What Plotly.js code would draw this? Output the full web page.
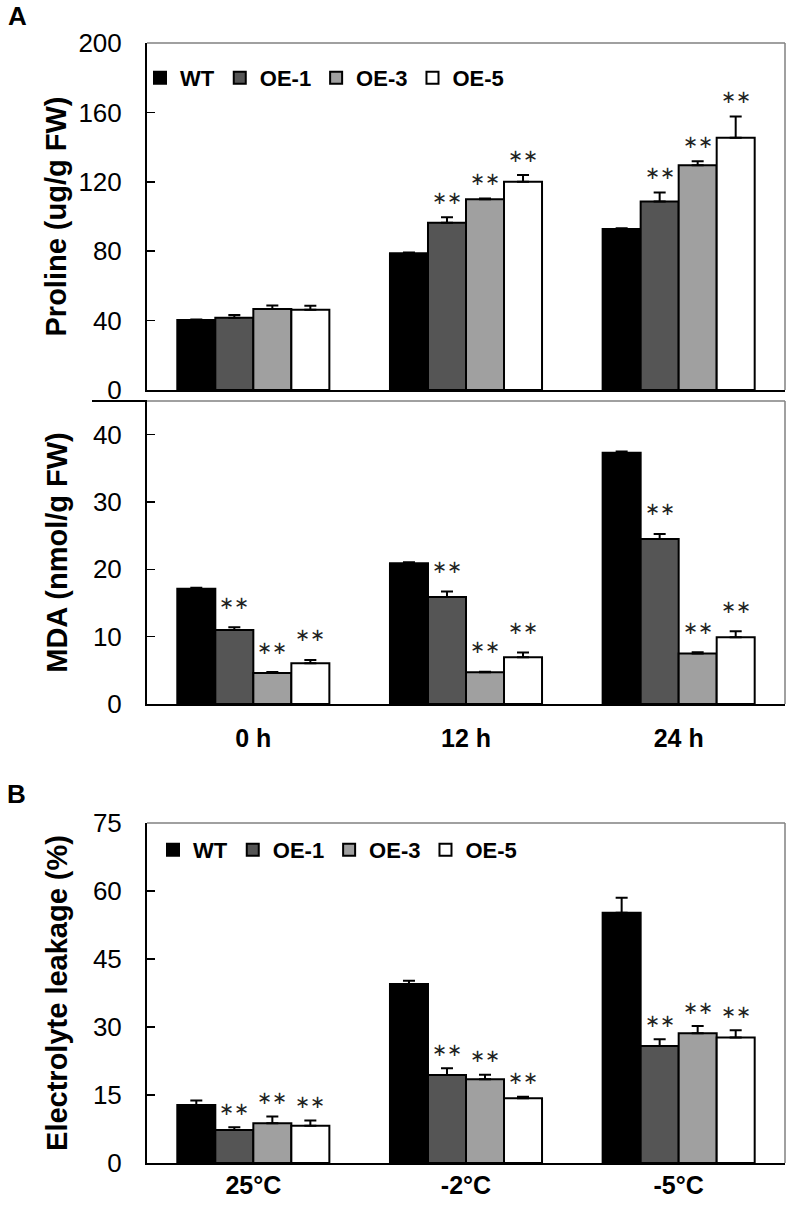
<!DOCTYPE html>
<html>
<head>
<meta charset="utf-8">
<script src="https://cdn.plot.ly/plotly-3.0.1.min.js"></script>
<style>html,body{margin:0;padding:0;background:#fff;}#chart{width:800px;height:1207px;}</style>
</head>
<body>
<div id="chart"></div>
<script>
// ---------- data ----------
const timeCategories = ['0 h', '12 h', '24 h'];
const tempCategories = ['25°C', '-2°C', '-5°C'];
const seriesNames = ['WT', 'OE-1', 'OE-3', 'OE-5'];

// Proline (ug/g FW)
const prolineWT = [40.3, 78.8, 92.8];
const prolineOE1 = [41.7, 96.4, 108.7];
const prolineOE3 = [46.7, 109.9, 129.5];
const prolineOE5 = [46.3, 120.1, 145.4];
const prolineWTErr = [0.3, 0.4, 0.4];
const prolineOE1Err = [1.5, 3.1, 5.2];
const prolineOE3Err = [2.0, 0.5, 2.3];
const prolineOE5Err = [2.3, 3.8, 12.3];
const prolineSig = [[0, 0, 0], [0, 1, 1], [0, 1, 1], [0, 1, 1]];

// MDA (nmol/g FW)
const mdaWT = [17.1, 20.9, 37.3];
const mdaOE1 = [11.0, 15.9, 24.5];
const mdaOE3 = [4.6, 4.7, 7.5];
const mdaOE5 = [6.05, 6.95, 9.9];
const mdaWTErr = [0.15, 0.15, 0.2];
const mdaOE1Err = [0.4, 0.8, 0.75];
const mdaOE3Err = [0.15, 0.1, 0.2];
const mdaOE5Err = [0.5, 0.7, 0.9];
const mdaSig = [[0, 0, 0], [1, 1, 1], [1, 1, 1], [1, 1, 1]];

// Electrolyte leakage (%)
const elWT = [12.8, 39.5, 55.2];
const elOE1 = [7.3, 19.4, 25.8];
const elOE3 = [8.75, 18.5, 28.6];
const elOE5 = [8.2, 14.3, 27.7];
const elWTErr = [1.0, 0.7, 3.3];
const elOE1Err = [0.6, 1.5, 1.5];
const elOE3Err = [1.5, 0.95, 1.6];
const elOE5Err = [1.2, 0.3, 1.6];
const elSig = [[0, 0, 0], [1, 1, 1], [1, 1, 1], [1, 1, 1]];

// ---------- style ----------
const FONT = 'Liberation Sans, Arial, Helvetica, sans-serif';
const fills = ['#000000', '#555555', '#a0a0a0', '#ffffff'];
const BARGAP = 0.285;
const W = 800, H = 1207;
const xDom = [147 / W, 785 / W];
const px2y = p => 1 - p / H;
const dom1 = [px2y(390), px2y(43)];
const dom2 = [px2y(704), px2y(401)];
const dom3 = [px2y(1163), px2y(823)];

const panels = [
  {cats: timeCategories, vals: [prolineWT, prolineOE1, prolineOE3, prolineOE5],
   errs: [prolineWTErr, prolineOE1Err, prolineOE3Err, prolineOE5Err], sig: prolineSig,
   xa: 'x', ya: 'y', legend: 'legend', show: true, starShift: 20},
  {cats: timeCategories, vals: [mdaWT, mdaOE1, mdaOE3, mdaOE5],
   errs: [mdaWTErr, mdaOE1Err, mdaOE3Err, mdaOE5Err], sig: mdaSig,
   xa: 'x2', ya: 'y2', legend: 'legend', show: false, starShift: 25},
  {cats: tempCategories, vals: [elWT, elOE1, elOE3, elOE5],
   errs: [elWTErr, elOE1Err, elOE3Err, elOE5Err], sig: elSig,
   xa: 'x3', ya: 'y3', legend: 'legend2', show: true, starShift: 19}
];

const traces = [];
const annotations = [];
const groupW = 1 - BARGAP;
const barW = groupW / seriesNames.length;

panels.forEach(p => {
  seriesNames.forEach((name, i) => {
    traces.push({
      type: 'bar', name: name, x: p.cats, y: p.vals[i],
      xaxis: p.xa, yaxis: p.ya, legend: p.legend, showlegend: p.show,
      marker: {color: fills[i], line: {color: '#000', width: 2}},
      error_y: {type: 'data', symmetric: false, array: p.errs[i],
                arrayminus: p.errs[i].map(() => 0), color: '#000', thickness: 2, width: 6},
      hoverinfo: 'skip'
    });
    p.sig[i].forEach((s, j) => {
      if (s) {
        annotations.push({
          xref: p.xa, yref: p.ya,
          x: j - groupW / 2 + barW * (i + 0.5),
          y: p.vals[i][j] + p.errs[i][j],
          text: '∗∗', showarrow: false, yanchor: 'middle', xanchor: 'center',
          yshift: p.starShift,
          font: {family: 'DejaVu Sans', size: 18, color: '#222'}
        });
      }
    });
  });
});

annotations.push({xref: 'paper', yref: 'paper', x: 17 / W, y: px2y(16), text: 'A',
  showarrow: false, xanchor: 'center', yanchor: 'middle',
  font: {family: FONT, size: 26, weight: 'bold', color: '#000'}});
annotations.push({xref: 'paper', yref: 'paper', x: 16 / W, y: px2y(794), text: 'B',
  showarrow: false, xanchor: 'center', yanchor: 'middle',
  font: {family: FONT, size: 26, weight: 'bold', color: '#000'}});

const gray = {color: '#808080', width: 1.5};
const shapes = [];
[['x', 'y'], ['x2', 'y2'], ['x3', 'y3']].forEach(([xa, ya]) => {
  shapes.push({type: 'line', xref: xa + ' domain', yref: ya + ' domain', x0: 0, x1: 1, y0: 1, y1: 1, line: gray});
  shapes.push({type: 'line', xref: xa + ' domain', yref: ya + ' domain', x0: 1, x1: 1, y0: 0, y1: 1, line: gray});
});
shapes.push({type: 'line', xref: 'paper', yref: 'y2 domain', x0: 92 / W, x1: 147 / W, y0: 1, y1: 1,
  line: {color: '#000', width: 2}});

function xAxis(anchor, showLabels, standoff) {
  return {domain: xDom, anchor: anchor, type: 'category', range: [-0.5, 2.5],
    showline: true, linecolor: '#000', linewidth: 2, ticks: '', showgrid: false, zeroline: false,
    showticklabels: showLabels, ticklabelstandoff: standoff,
    tickfont: {family: FONT, size: 25, weight: 'bold', color: '#000'}};
}
function yAxis(anchor, dom, range, dtick, title, standoff) {
  return {domain: dom, anchor: anchor, range: range, dtick: dtick, tick0: 0,
    ticks: 'inside', ticklen: 8, tickwidth: 1.5, tickcolor: '#000',
    showline: true, linecolor: '#000', linewidth: 2, showgrid: false, zeroline: false,
    ticklabelstandoff: 18, tickfont: {family: FONT, size: 26, color: '#000'},
    title: {text: title, standoff: standoff, font: {family: FONT, size: 29, weight: 'bold', color: '#000'}}};
}

const legendBase = {orientation: 'h', xanchor: 'left', yanchor: 'middle', bgcolor: 'rgba(0,0,0,0)',
  itemwidth: 30, traceorder: 'normal', font: {family: FONT, size: 22, weight: 'bold', color: '#000'}};

const NB = '\u00a0';
const layout = {
  width: W, height: H, margin: {l: 0, r: 0, t: 0, b: 0},
  paper_bgcolor: '#fff', plot_bgcolor: 'rgba(0,0,0,0)',
  font: {family: FONT, color: '#000'},
  barmode: 'group', bargap: BARGAP, bargroupgap: 0,
  xaxis: xAxis('y', false, 0),
  yaxis: yAxis('x', dom1, [0, 200], 40, NB.repeat(6) + 'Proline (ug/g FW)', 3),
  xaxis2: xAxis('y2', true, 11),
  yaxis2: Object.assign(yAxis('x2', dom2, [0, 45], 10, 'MDA (nmol/g FW)', 17), {tickvals: [0, 10, 20, 30, 40]}),
  xaxis3: xAxis('y3', true, -1),
  yaxis3: yAxis('x3', dom3, [0, 75], 15, 'Electrolyte leakage (%)', 17),
  legend: Object.assign({}, legendBase, {x: 140 / W, y: px2y(78)}),
  legend2: Object.assign({}, legendBase, {x: 153 / W, y: px2y(850)}),
  shapes: shapes,
  annotations: annotations
};

Plotly.newPlot('chart', traces, layout, {staticPlot: true, displayModeBar: false});
</script>
</body>
</html>
